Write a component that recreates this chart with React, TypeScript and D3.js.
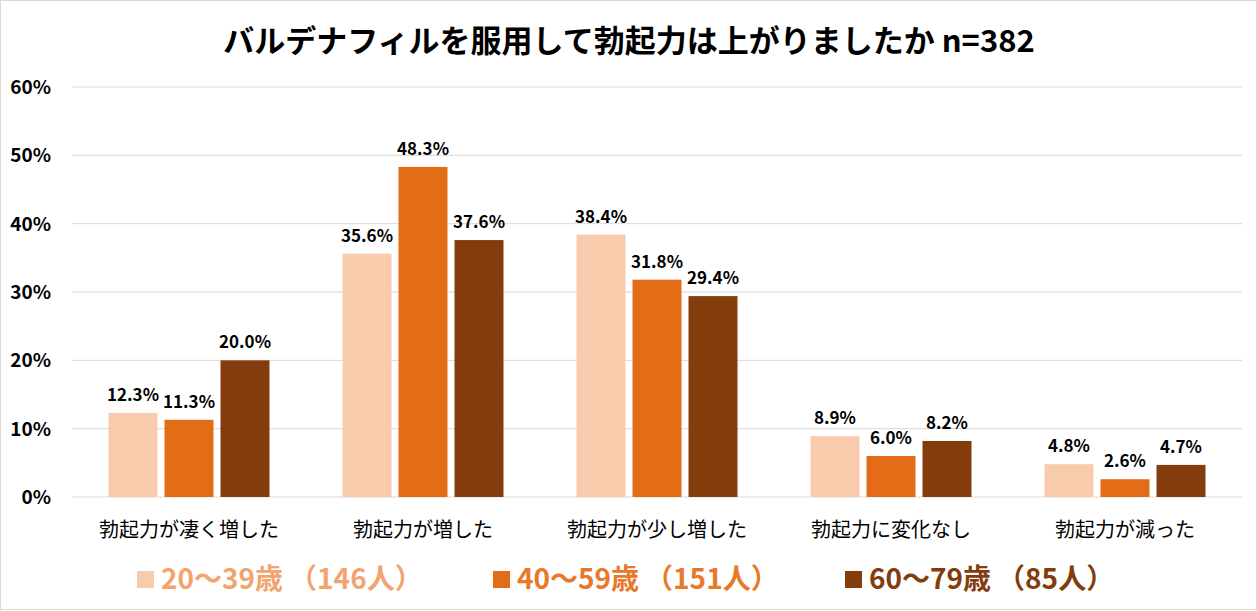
import React from "react";
import * as d3 from "d3";

const categories = ["勃起力が凄く増した", "勃起力が増した", "勃起力が少し増した", "勃起力に変化なし", "勃起力が減った"];
const seriesNames = ["20～39歳（146人）", "40～59歳（151人）", "60～79歳（85人）"];
const series20 = [12.3, 35.6, 38.4, 8.9, 4.8];
const series40 = [11.3, 48.3, 31.8, 6.0, 2.6];
const series60 = [20.0, 37.6, 29.4, 8.2, 4.7];
const yTicks = [0, 10, 20, 30, 40, 50, 60];
const colors = ["#F8CBAD", "#E36C17", "#843C0C"];
const legendColors = ["#F2A46F", "#E8782A", "#843C0C"];

const W = 1257, H = 611;
const FONT = "'Noto Sans CJK JP', 'Noto Sans', sans-serif";

export default function App() {
  const all = [series20, series40, series60];
  const x0 = d3.scaleBand<string>().domain(categories).range([72, 1242]).paddingInner(0).paddingOuter(0);
  const y = d3.scaleLinear().domain([0, 60]).range([497, 87]);
  const bw = 49, gap = 7;
  return (
    <svg width={W} height={H} style={{ position: "absolute", left: 0, top: 0, background: "#fff" }}>
      <rect x={0.5} y={0.5} width={W - 1} height={H - 2} fill="#fff" stroke="#D9D9D9" />
      <text x={629} y={52} textAnchor="middle" fontFamily={FONT} fontWeight="bold" fontSize={31} fill="#000">
        バルデナフィルを服用して勃起力は上がりましたか n=382
      </text>
      {yTicks.map((t) => (
        <g key={t}>
          <line x1={72} x2={1242} y1={y(t)} y2={y(t)} stroke="#D9D9D9" strokeWidth={1} />
          <text x={51} y={y(t) + 7} textAnchor="end" fontFamily={FONT} fontWeight="bold" fontSize={19} fill="#000">
            {t}%
          </text>
        </g>
      ))}
      {categories.map((c, i) => {
        const cx = (x0(c) as number) + x0.bandwidth() / 2;
        return (
          <g key={c}>
            {all.map((s, j) => {
              const bx = cx + (j - 1) * (bw + gap) - bw / 2;
              return (
                <g key={j}>
                  <rect x={bx} y={y(s[i])} width={bw} height={y(0) - y(s[i])} fill={colors[j]} />
                  <text x={bx + bw / 2} y={y(s[i]) - 12} textAnchor="middle" fontFamily={FONT} fontWeight="bold" fontSize={17} fill="#000">
                    {s[i].toFixed(1)}%
                  </text>
                </g>
              );
            })}
            <text x={cx} y={537} textAnchor="middle" fontFamily={FONT} fontSize={20} fill="#000">
              {c}
            </text>
          </g>
        );
      })}
      {seriesNames.map((n, j) => {
        const lx = [137, 493, 845][j];
        const k = n.indexOf("（");
        return (
          <g key={n}>
            <rect x={lx} y={571} width={17} height={17} fill={colors[j]} />
            <text x={lx + 24} y={589} fontFamily={FONT} fontWeight="bold" fontSize={28} fill={legendColors[j]}>
              <tspan>{n.slice(0, k)}</tspan>
              <tspan dx={6}>{n.slice(k)}</tspan>
            </text>
          </g>
        );
      })}
    </svg>
  );
}
